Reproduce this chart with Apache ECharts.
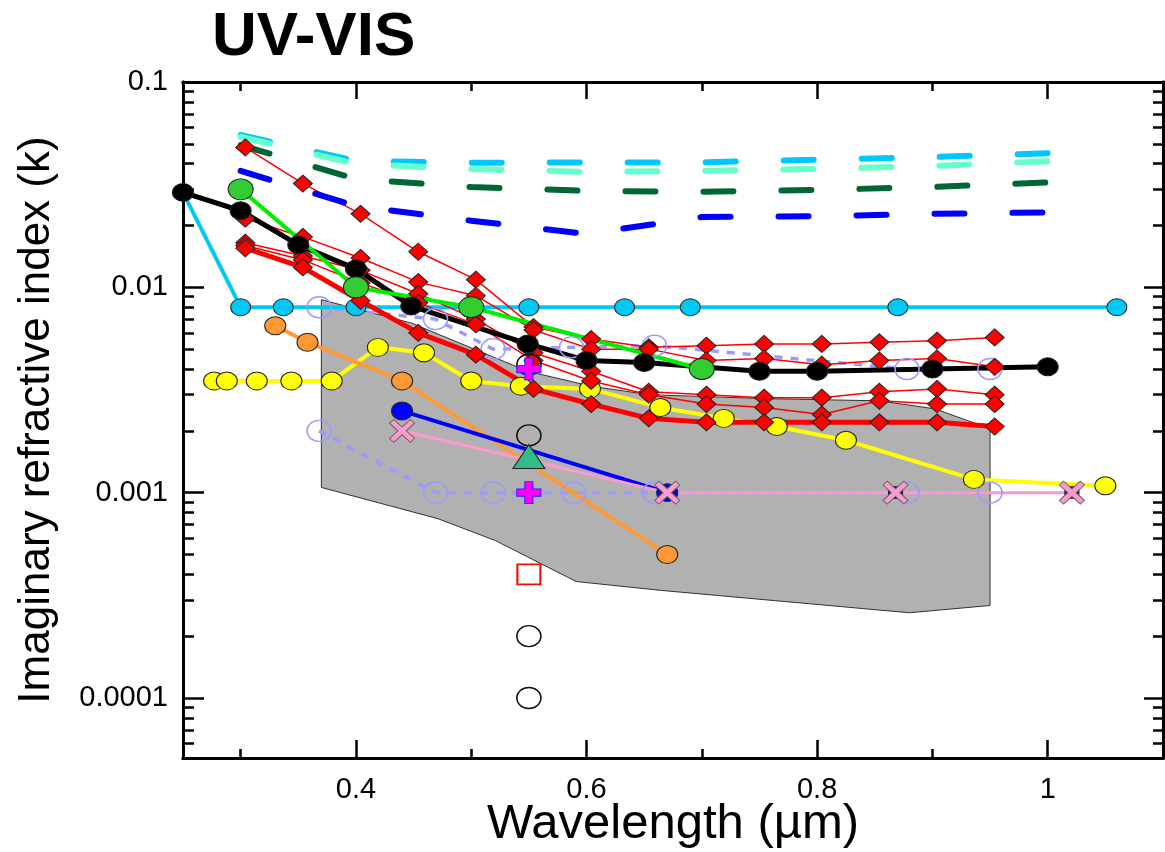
<!DOCTYPE html>
<html>
<head>
<meta charset="utf-8">
<script src="https://cdn.jsdelivr.net/npm/echarts@6/dist/echarts.min.js"></script>
<style>
  html, body { margin: 0; padding: 0; background: #fff; }
  #chart { width: 1165px; height: 852px; }
</style>
</head>
<body>
<div id="chart"></div>
<script>
// ---- axis ticks and labels ----
const xLabelValues = [0.4, 0.6, 0.8, 1.0];
const xMajorTicks = [0.4, 0.6, 0.8, 1.0];
const xMinorTicks = [0.3, 0.5, 0.7, 0.9];
const yLabelValues = [0.0001, 0.001, 0.01, 0.1];
const yMajorTicks = [0.0001, 0.001, 0.01, 0.1];
const yMinorMultipliers = [2, 3, 4, 5, 6, 7, 8, 9];
const yMinorDecades = [0.00001, 0.0001, 0.001, 0.01];

// ---- data: [wavelength (µm), k] ----
const cyanSolid = [[0.25, 0.029], [0.30, 0.008], [0.337, 0.008], [0.40, 0.008], [0.50, 0.008], [0.55, 0.008], [0.633, 0.008], [0.69, 0.008], [0.87, 0.008], [1.06, 0.008]];
const blackSolid = [[0.25, 0.029], [0.30, 0.0236], [0.35, 0.0161], [0.40, 0.0123], [0.448, 0.0081], [0.549, 0.0053], [0.60, 0.0044], [0.65, 0.0043], [0.75, 0.0039], [0.80, 0.0039], [0.90, 0.0040], [1.00, 0.0041]];
const greenSolid = [[0.30, 0.030], [0.40, 0.010], [0.50, 0.008], [0.70, 0.004]];

const redX = [0.304, 0.354, 0.404, 0.454, 0.504, 0.554, 0.604, 0.654, 0.704, 0.754, 0.804, 0.854, 0.904, 0.954];
const redA = [0.048, 0.032, 0.0228, 0.0149, 0.0109, 0.0064, 0.0056, 0.0051, 0.0052, 0.0053, 0.0053, 0.0054, 0.0055, 0.0057];
const redB = [0.0216, 0.0176, 0.0139, 0.0106, 0.0091, 0.0062, 0.0050, 0.0050, 0.0044, 0.0045, 0.0042, 0.0044, 0.0045, 0.0041];
const redC = [0.0165, 0.0142, 0.0121, 0.0093, 0.0070, 0.0048, 0.0039, 0.0031, 0.0030, 0.0029, 0.0029, 0.0031, 0.0032, 0.0030];
const redD = [0.0160, 0.0136, 0.0105, 0.0084, 0.0066, 0.0044, 0.0035, 0.0030, 0.0027, 0.0026, 0.0024, 0.0028, 0.0027, 0.0027];
const redThick = [0.0155, 0.0125, 0.0086, 0.0060, 0.0047, 0.0032, 0.0027, 0.0023, 0.0022, 0.0022, 0.0022, 0.0022, 0.0022, 0.0021];

const dashX = [0.30, 0.40, 0.50, 0.60, 0.70, 0.80, 0.90, 1.01];
const dashCyan = [0.0552, 0.0413, 0.0404, 0.0406, 0.0406, 0.0418, 0.0431, 0.0452];
const dashAqua = [0.0540, 0.0399, 0.0377, 0.0365, 0.0369, 0.0377, 0.0390, 0.0413];
const dashDarkGreen = [0.0493, 0.0337, 0.0308, 0.0295, 0.0292, 0.0298, 0.0308, 0.0326];
const dashBlue = [0.0369, 0.0249, 0.0211, 0.0182, 0.0220, 0.0222, 0.0228, 0.0232];

const yellowSolid = [[0.277, 0.0035], [0.288, 0.0035], [0.314, 0.0035], [0.344, 0.0035], [0.379, 0.0035], [0.419, 0.0051], [0.459, 0.0048], [0.50, 0.0035], [0.543, 0.0033], [0.603, 0.0032], [0.664, 0.0026], [0.719, 0.0023], [0.765, 0.0021], [0.825, 0.0018], [0.936, 0.00116], [1.05, 0.00108]];
const orangeSolid = [[0.33, 0.0065], [0.358, 0.0054], [0.44, 0.0035], [0.67, 0.0005]];
const blueSolid = [[0.44, 0.0025], [0.67, 0.001]];
const blueSquares = [[0.67, 0.001], [0.868, 0.001], [1.021, 0.001]];
const pinkSolid = [[0.44, 0.002], [0.67, 0.001], [0.868, 0.001], [1.021, 0.001]];
const lavenderUpper = [[0.368, 0.0080], [0.469, 0.0070], [0.519, 0.0050], [0.587, 0.0051], [0.659, 0.0052], [0.878, 0.0040], [0.95, 0.0040]];
const lavenderLower = [[0.368, 0.002], [0.469, 0.001], [0.519, 0.001], [0.589, 0.001], [0.659, 0.001], [0.878, 0.001], [0.95, 0.001]];

const openBlackCircles = [[0.55, 0.0042], [0.55, 0.0019], [0.55, 0.0002], [0.55, 0.0001]];
const magentaPlus = [[0.55, 0.004], [0.55, 0.001]];
const tealTriangle = [[0.55, 0.0015]];
const redOpenSquare = [[0.55, 0.0004]];

// shaded range envelope (outline vertices)
const grayRange = [[0.37, 0.0087], [0.448, 0.0067], [0.549, 0.0039], [0.604, 0.0033], [0.654, 0.0030], [0.755, 0.00287], [0.854, 0.0028], [0.902, 0.00256], [0.95, 0.00205],
                   [0.95, 0.000282], [0.88, 0.00026], [0.665, 0.000334], [0.591, 0.000369], [0.521, 0.000584], [0.471, 0.000747], [0.37, 0.00106]];

// ---- helpers ----
const fam = '"Liberation Sans", Arial, Helvetica, sans-serif';
const yMinorTicks = [];
yMinorDecades.forEach(d => yMinorMultipliers.forEach(m => {
  const v = d * m;
  if (v > 0.000051 && v < 0.1) yMinorTicks.push(v);
}));
const zip = (xs, ys) => xs.map((x, i) => [x, ys[i]]);

const PLUS = 'path://M-1,-3H1V-1H3V1H1V3H-1V1H-3V-1H-1Z';
const CROSS = 'path://M-3,-2L-2,-3L0,-1L2,-3L3,-2L1,0L3,2L2,3L0,1L-2,3L-3,2L-1,0Z';

function xAxisCfg(position, ticks, len, withText) {
  return {
    type: 'value', position: position, min: 0.25, max: 1.1,
    axisLine: { show: true, onZero: false, lineStyle: { color: '#000', width: 3 } },
    axisTick: { show: true, inside: true, length: len, customValues: ticks, lineStyle: { color: '#000', width: 2.5 } },
    axisLabel: withText ? { show: true, customValues: xLabelValues, margin: 17, fontSize: 29, color: '#000', fontFamily: fam } : { show: false },
    splitLine: { show: false },
    name: withText ? 'Wavelength (µm)' : '',
    nameLocation: 'middle', nameGap: 42, nameMoveOverlap: false,
    nameTextStyle: { fontSize: 49, color: '#000', fontFamily: fam }
  };
}
function yAxisCfg(position, ticks, len, withText) {
  return {
    type: 'log', logBase: 10, position: position, min: 0.000051, max: 0.1,
    axisLine: { show: true, onZero: false, lineStyle: { color: '#000', width: 3 } },
    axisTick: { show: true, inside: true, length: len, customValues: ticks, lineStyle: { color: '#000', width: 2.5 } },
    axisLabel: withText ? {
      show: true, customValues: yLabelValues, margin: 15, fontSize: 29, color: '#000', fontFamily: fam,
      formatter: v => v.toFixed(Math.round(-Math.log10(v)))
    } : { show: false },
    splitLine: { show: false }, minorTick: { show: false },
    name: withText ? 'Imaginary refractive index (k)' : '',
    nameLocation: 'middle', nameRotate: 90, nameGap: 124, nameMoveOverlap: false,
    nameTextStyle: { fontSize: 44, color: '#000', fontFamily: fam }
  };
}

function solid(data, color, width, symbol, size, fill, extra) {
  return Object.assign({
    type: 'line', data: data, symbol: symbol, symbolSize: size,
    lineStyle: { color: color, width: width },
    itemStyle: { color: fill, borderColor: '#222', borderWidth: 1 },
    emphasis: { disabled: true }, z: 3
  }, extra || {});
}
function dashed(data, color) {
  return {
    type: 'line', data: data, symbol: 'none',
    lineStyle: { color: color, width: 6, type: [30, 48], cap: 'round' },
    emphasis: { disabled: true }, z: 3
  };
}
function lavender(data) {
  return {
    type: 'line', data: data, symbol: 'circle', symbolSize: [24, 21],
    lineStyle: { color: '#9A9AFF', width: 3.5, type: [8, 8] },
    itemStyle: { color: 'rgba(0,0,0,0)', borderColor: '#9A9AFF', borderWidth: 1.5 },
    emphasis: { disabled: true }, z: 3
  };
}
function points(data, symbol, size, fill, border, bw, z) {
  return {
    type: 'scatter', data: data, symbol: symbol, symbolSize: size,
    itemStyle: { color: fill, borderColor: border, borderWidth: bw, opacity: 1 },
    emphasis: { disabled: true }, z: z || 4
  };
}

const chart = echarts.init(document.getElementById('chart'), null, { renderer: 'canvas' });
chart.setOption({
  animation: false,
  backgroundColor: '#fff',
  title: {
    text: 'UV-VIS', left: 207, top: 2,
    textStyle: { fontSize: 62, fontWeight: 'bold', color: '#000', fontFamily: fam }
  },
  grid: { left: 183, right: 2, top: 82, bottom: 94, containLabel: false, outerBoundsMode: 'none' },
  xAxis: [
    xAxisCfg('bottom', xMajorTicks, 18, true),
    xAxisCfg('bottom', xMinorTicks, 9, false),
    xAxisCfg('top', xMajorTicks, 17, false),
    xAxisCfg('top', xMinorTicks, 9, false)
  ],
  yAxis: [
    yAxisCfg('left', yMajorTicks, 21, true),
    yAxisCfg('left', yMinorTicks, 11, false),
    yAxisCfg('right', yMajorTicks, 19, false),
    yAxisCfg('right', yMinorTicks, 10, false)
  ],
  series: [
    {
      type: 'custom', data: grayRange, z: 2,
      renderItem: function (params, api) {
        if (params.dataIndexInside !== 0) return;
        const pts = grayRange.map(p => api.coord(p));
        return { type: 'polygon', shape: { points: pts }, style: { fill: '#B1B1B1', stroke: '#333', lineWidth: 1 } };
      }
    },
    lavender(lavenderLower),
    lavender(lavenderUpper),
    solid(yellowSolid, '#FFFF00', 4, 'circle', [21, 18], '#FFFF00'),
    solid(orangeSolid, '#FF9933', 4, 'circle', [21, 18], '#FF9933'),
    solid(blueSolid, '#0000FF', 4, 'circle', [21, 18], '#0000FF'),
    points(blueSquares, 'rect', [14, 12], '#0000FF', '#222', 1, 3),
    solid(pinkSolid, '#FF99CC', 3, CROSS, [25, 23], '#FF99CC', { itemStyle: { color: '#FF99CC', borderColor: '#666', borderWidth: 1 } }),
    solid(cyanSolid, '#00C8F5', 4, 'circle', [20, 17], '#00C8F5'),
    solid(zip(redX, redA), '#FF0000', 1.5, 'diamond', [19, 17], '#FF0000'),
    solid(zip(redX, redB), '#FF0000', 1.5, 'diamond', [19, 17], '#FF0000'),
    solid(zip(redX, redC), '#FF0000', 1.5, 'diamond', [19, 17], '#FF0000'),
    solid(zip(redX, redD), '#FF0000', 1.5, 'diamond', [19, 17], '#FF0000'),
    solid(zip(redX, redThick), '#FF0000', 5, 'diamond', [19, 17], '#FF0000'),
    dashed(zip(dashX, dashBlue), '#0000FF'),
    dashed(zip(dashX, dashDarkGreen), '#006633'),
    dashed(zip(dashX, dashCyan), '#00C8FF'),
    dashed(zip(dashX, dashAqua), '#66FFCC'),
    solid(blackSolid, '#000000', 5, 'circle', [21, 18], '#000000'),
    solid(greenSolid, '#00EE00', 4, 'circle', [25, 21], '#33CC33'),
    points(openBlackCircles, 'circle', [24, 21], 'rgba(0,0,0,0)', '#111', 1.5),
    points(redOpenSquare, 'rect', [23, 20], 'rgba(0,0,0,0)', '#EE1100', 2),
    points(tealTriangle, 'triangle', [32, 24], '#33BB88', '#222', 1),
    points(magentaPlus, PLUS, [24, 22], '#FF00FF', '#2222FF', 1)
  ]
});
</script>
</body>
</html>
